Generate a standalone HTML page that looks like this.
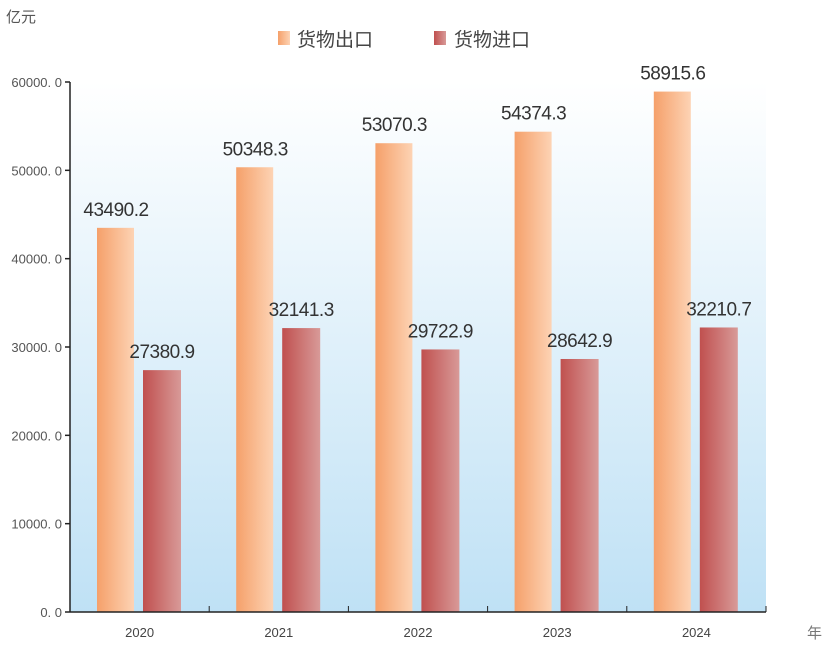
<!DOCTYPE html>
<html><head><meta charset="utf-8"><style>
body{margin:0;background:#fff;}
svg{display:block;font-family:"Liberation Sans","Noto Sans CJK SC",sans-serif;}
</style></head><body>
<svg id="c" width="829" height="646">
<defs>
<linearGradient id="bg" x1="0" y1="0" x2="0" y2="1"><stop offset="0" stop-color="#ffffff"/><stop offset="1" stop-color="#bfe1f5"/></linearGradient>
<linearGradient id="ex" x1="0" y1="0" x2="1" y2="0"><stop offset="0" stop-color="#f5a06a"/><stop offset="1" stop-color="#fdd3b4"/></linearGradient>
<linearGradient id="im" x1="0" y1="0" x2="1" y2="0"><stop offset="0" stop-color="#c0504f"/><stop offset="1" stop-color="#d89a98"/></linearGradient>
</defs>
<rect x="70" y="82" width="696" height="530" fill="url(#bg)"/>
<text x="6" y="22" font-size="15" fill="#555">亿元</text>
<text x="807" y="638" font-size="15" fill="#777">年</text>
<rect x="278" y="31" width="12" height="14" fill="url(#ex)"/>
<text x="297" y="46" font-size="19" fill="#444">货物出口</text>
<rect x="434" y="31" width="12" height="14" fill="url(#im)"/>
<text x="454" y="46" font-size="19" fill="#444">货物进口</text>
<g id="g"></g>
</svg>
<script>
const categories=["2020","2021","2022","2023","2024"];
const exportsV=[43490.2,50348.3,53070.3,54374.3,58915.6];
const importsV=[27380.9,32141.3,29722.9,28642.9,32210.7];
const yTicks=[0,10000,20000,30000,40000,50000,60000];
const yTickLabels=["0. 0","10000. 0","20000. 0","30000. 0","40000. 0","50000. 0","60000. 0"];
const X0=70,X1=766,Y0=612,Y1=82,YMAX=60000;
const bw=(X1-X0)/categories.length;
const y=v=>Y0-(v/YMAX)*(Y0-Y1);
const g=document.getElementById('g');
const NS="http://www.w3.org/2000/svg";
function mk(t,a){const e=document.createElementNS(NS,t);for(const k in a)e.setAttribute(k,a[k]);g.appendChild(e);return e;}
yTicks.forEach((v,i)=>{
 const t=mk('text',{x:X0-8,y:y(v)+5,'text-anchor':'end','font-size':13,fill:'#555'});t.textContent=yTickLabels[i];
 
 
 const l=mk('line',{x1:X0-5,x2:X0,y1:y(v),y2:y(v),stroke:'#222','stroke-width':1.5});
 
 
});
categories.forEach((c,i)=>{
 const gx=X0+i*bw;
 const be=mk('rect',{x:gx+27,y:y(exportsV[i]),width:37,height:Y0-y(exportsV[i]),fill:'url(#ex)'});
 
 
 const bi=mk('rect',{x:gx+73,y:y(importsV[i]),width:38,height:Y0-y(importsV[i]),fill:'url(#im)'});
 
 
 const le=mk('text',{x:gx+46,y:y(exportsV[i])-12,'text-anchor':'middle','font-size':19,fill:'#333','letter-spacing':'-0.5'});le.textContent=exportsV[i].toFixed(1);
 
 
 const li=mk('text',{x:gx+92,y:y(importsV[i])-12,'text-anchor':'middle','font-size':19,fill:'#333','letter-spacing':'-0.5'});li.textContent=importsV[i].toFixed(1);
 
 
 const xl=mk('text',{x:gx+bw/2,y:637,'text-anchor':'middle','font-size':13,fill:'#444'});xl.textContent=c;
 
 
 const tk=mk('line',{x1:gx+bw,x2:gx+bw,y1:Y0-6,y2:Y0,stroke:'#222','stroke-width':1});
 
 
});
const ya=mk('line',{x1:X0,x2:X0,y1:Y1,y2:Y0,stroke:'#222','stroke-width':1.5});


const xa=mk('line',{x1:X0,x2:X1,y1:Y0,y2:Y0,stroke:'#222','stroke-width':1.5});


</script>
</body></html>
